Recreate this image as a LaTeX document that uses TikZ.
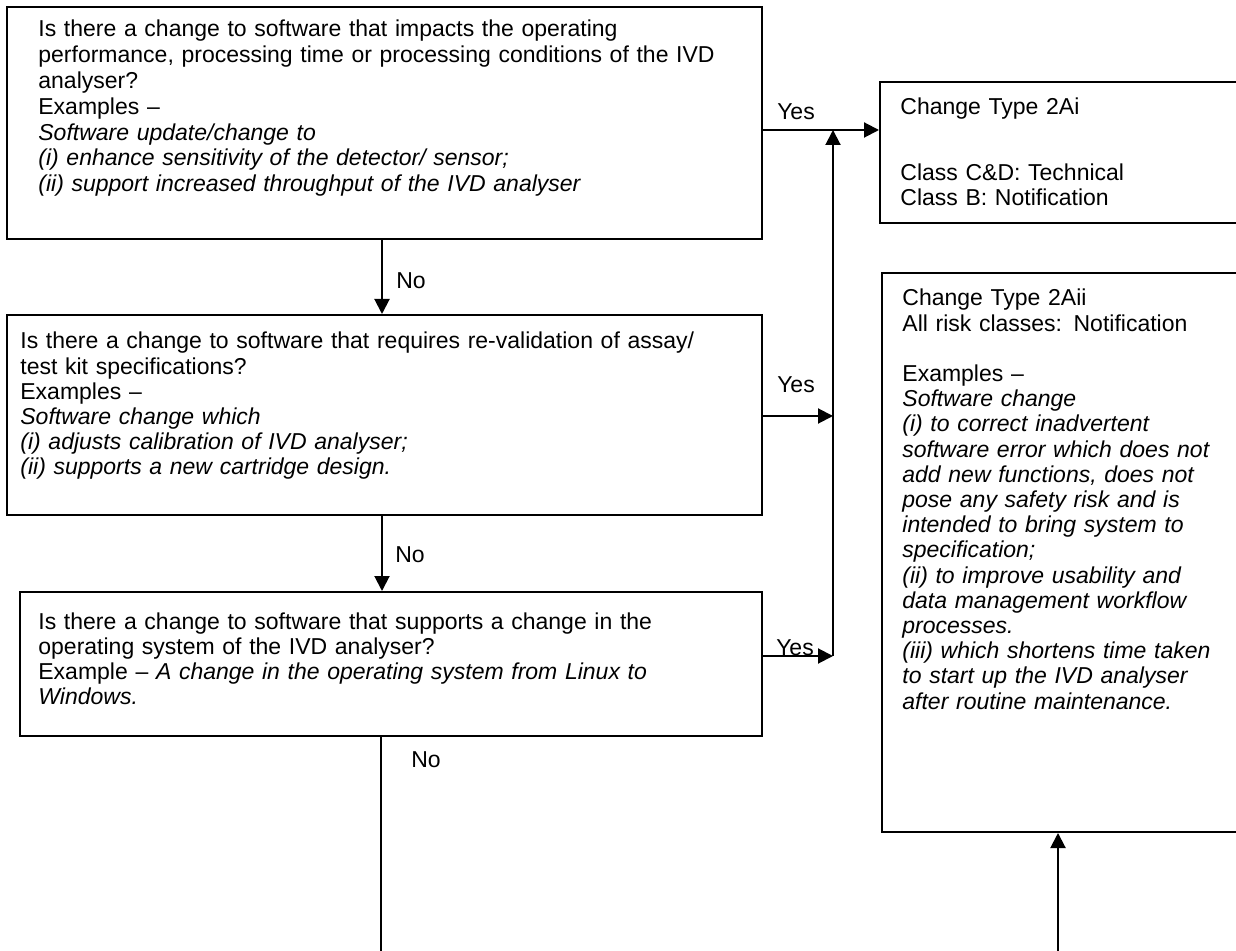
\documentclass[tikz,border=0pt]{standalone}
\usepackage{fontspec}
\setmainfont{Liberation Sans}
\usetikzlibrary{arrows.meta,fit}
\begin{document}
\begin{tikzpicture}[x=0.5pt,y=-0.5pt,
  box/.style={draw,line width=1pt,inner sep=0pt},
  txt/.style={anchor=base west,inner sep=0pt,align=left,font=\fontsize{11.5}{12.6}\selectfont},
  conn/.style={line width=1pt},
  arr/.style={conn,-{Triangle[length=7.5pt,width=7.5pt]}},
  lbl/.style={inner sep=0pt,font=\fontsize{11.5}{12.6}\selectfont}]
\useasboundingbox (0,0) rectangle (1236,951);
\clip (0,0) rectangle (1236,951);
% boxes
\node[box,fit={(7,7) (762,239)}] (q1) {};
\node[box,fit={(7,315) (762,515)}] (q2) {};
\node[box,fit={(20,592) (762,736)}] (q3) {};
\node[box,fit={(880,82) (1260,223)}] (t1) {};
\node[box,fit={(882,273) (1260,832)}] (t2) {};
% texts
\node[txt,text width=370pt,font=\fontsize{11.5}{12.9}\selectfont] (q1t) at (38,37) {Is there a change to software that impacts the operating\\
performance, processing time or processing conditions of the IVD\\
analyser?\\
Examples –\\
\textit{Software update/change to}\\
\textit{(i) enhance sensitivity of the detector/ sensor;}\\
\textit{(ii) support increased throughput of the IVD analyser}};
\node[txt,text width=370pt] (q2t) at (20,349) {Is there a change to software that requires re-validation of assay/\\
test kit specifications?\\
Examples –\\
\textit{Software change which}\\
\textit{(i) adjusts calibration of IVD analyser;}\\
\textit{(ii) supports a new cartridge design.}};
\node[txt,text width=360pt] (q3t) at (38,629) {Is there a change to software that supports a change in the\\
operating system of the IVD analyser?\\
Example – \textit{A change in the operating system from Linux to}\\
\textit{Windows.}};
\node[txt,text width=170pt] (t1t) at (900,115) {Change Type 2Ai\\[20pt]
Class C\&D: Technical\\
Class B: Notification};
\node[txt,text width=170pt] (t2t) at (902,306) {Change Type 2Aii\\
All risk classes: Notification\\[12.6pt]
Examples –\\
\textit{Software change}\\
\textit{(i) to correct inadvertent}\\
\textit{software error which does not}\\
\textit{add new functions, does not}\\
\textit{pose any safety risk and is}\\
\textit{intended to bring system to}\\
\textit{specification;}\\
\textit{(ii) to improve usability and}\\
\textit{data management workflow}\\
\textit{processes.}\\
\textit{(iii) which shortens time taken}\\
\textit{to start up the IVD analyser}\\
\textit{after routine maintenance.}};
% helper coordinates
\coordinate (xno) at (382,0);
\coordinate (xv) at (833,0);
\coordinate (y1) at (0,130);
\coordinate (y2) at (0,416);
\coordinate (y3) at (0,656);
\coordinate (bot1) at (381,960);
\coordinate (bot2) at (1058,960);
% No connectors
\draw[arr] (q1.south -| xno) -- (q2.north -| xno);
\draw[arr] (q2.south -| xno) -- (q3.north -| xno);
\draw[conn] (q3.south -| bot1) -- (bot1);
\node[lbl] (no1) at (411,281) {No};
\node[lbl] (no2) at (410,555) {No};
\node[lbl] (no3) at (426,760) {No};
% Yes connectors
\draw[arr] (q1.east |- y1) -- (t1.west |- y1);
\draw[arr] (q2.east |- y2) -- (xv |- y2);
\draw[arr] (q3.east |- y3) -- (xv |- y3);
\draw[arr] (xv |- y3) -- (xv |- y1);
\node[lbl] (yes1) at (796,112) {Yes};
\node[lbl] (yes2) at (796,385) {Yes};
\node[lbl] (yes3) at (795,648) {Yes};
% bottom arrow into 2Aii
\draw[arr] (bot2) -- (t2.south -| bot2);
\end{tikzpicture}
\end{document}
